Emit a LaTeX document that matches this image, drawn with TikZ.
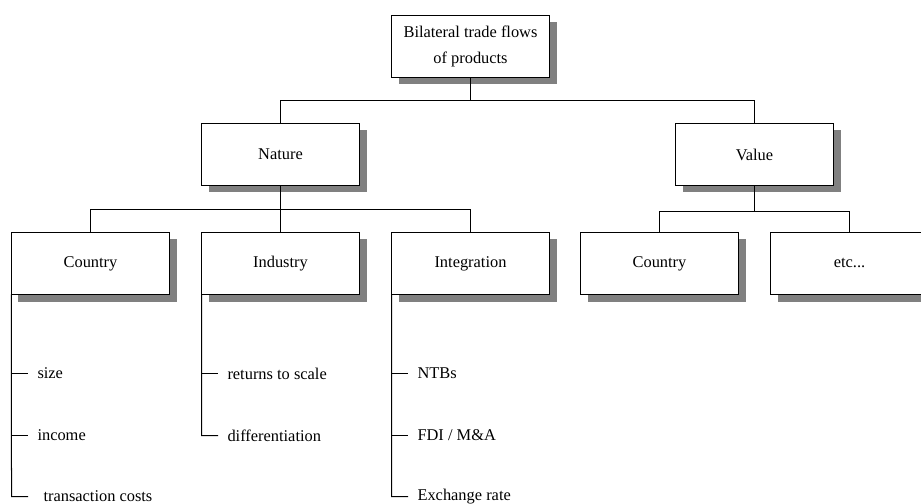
\documentclass[tikz,border=0pt]{standalone}
\usepackage{fontspec}
\setmainfont{Liberation Serif}
\usetikzlibrary{shadows}

\def\boxw{158bp}
\def\boxh{62bp}

\begin{document}
\begin{tikzpicture}[x=1bp,y=-1bp,line width=1bp,draw=black,
    font=\fontsize{16.4bp}{26bp}\selectfont]
    \tikzstyle{box}=[draw,fill=white,minimum width=\boxw,minimum height=\boxh,
        inner sep=2pt,outer sep=0pt,align=center,
        drop shadow={shadow xshift=7bp,shadow yshift=-7bp,fill=black!50,opacity=1}]
    \tikzstyle{leaf}=[anchor=west,inner sep=0pt]
    \tikzstyle{branch}=[draw=black]

    \useasboundingbox (0,0) rectangle (921,504);

    % Draw the root and the two main branches
    \node[box] (root) at (470.5,46.5) {Bilateral trade flows\\of products};
    \node[box] (nature) at (280.5,154.5) {Nature};
    \node[box] (value) at (754.5,154.5) {Value};

    % Draw the third level
    \node[box] (country) at (90.5,263.5) {Country};
    \node[box] (industry) at (280.5,263.5) {Industry};
    \node[box] (integration) at (470.5,263.5) {Integration};
    \node[box] (vcountry) at (659.5,263.5) {Country};
    \node[box] (etc) at (849.5,263.5) {etc...};

    % Connect the levels
    \path[branch] (root.south) -- (470.5,100.5) coordinate (r-bar);
    \path[branch] (nature.north) |- (r-bar) -| (value.north);
    \path[branch] (nature.south) -- (280.5,209.5) coordinate (n-bar);
    \path[branch] (country.north) |- (n-bar) -| (integration.north);
    \path[branch] (n-bar) -- (industry.north);
    \path[branch] (value.south) -- (754.5,211.5) coordinate (v-bar);
    \path[branch] (vcountry.north) |- (v-bar) -| (etc.north);

    % Leaves of the country box
    \coordinate (c-1) at (11.5,373.5);
    \coordinate (c-2) at (11.5,435.5);
    \coordinate (c-3) at (11.5,496.5);
    \node[leaf] (size) at (37,373.5) {size};
    \node[leaf] (income) at (37,435.5) {income};
    \node[leaf] (costs) at (43,496.5) {transaction costs};
    \path[branch] (country.south west) -- (c-3) -- (costs.west -| 28,0);
    \path[branch] (c-1) -- (size.west -| 28,0);
    \path[branch] (c-2) -- (income.west -| 28,0);

    % Leaves of the industry box
    \coordinate (d-1) at (201.5,373.5);
    \coordinate (d-2) at (201.5,435.5);
    \node[leaf] (scale) at (227,373.5) {returns to scale};
    \node[leaf] (diff) at (227,435.5) {differentiation};
    \path[branch] (industry.south west) -- (d-2) -- (diff.west -| 218,0);
    \path[branch] (d-1) -- (scale.west -| 218,0);

    % Leaves of the integration box
    \coordinate (g-1) at (391.5,373.5);
    \coordinate (g-2) at (391.5,435.5);
    \coordinate (g-3) at (391.5,496.5);
    \node[leaf] (ntb) at (417,373.5) {NTBs};
    \node[leaf] (fdi) at (417,435.5) {FDI / M\&A};
    \node[leaf] (rate) at (417,496.5) {Exchange rate};
    \path[branch] (integration.south west) -- (g-3) -- (rate.west -| 408,0);
    \path[branch] (g-1) -- (ntb.west -| 408,0);
    \path[branch] (g-2) -- (fdi.west -| 408,0);
\end{tikzpicture}
\end{document}
